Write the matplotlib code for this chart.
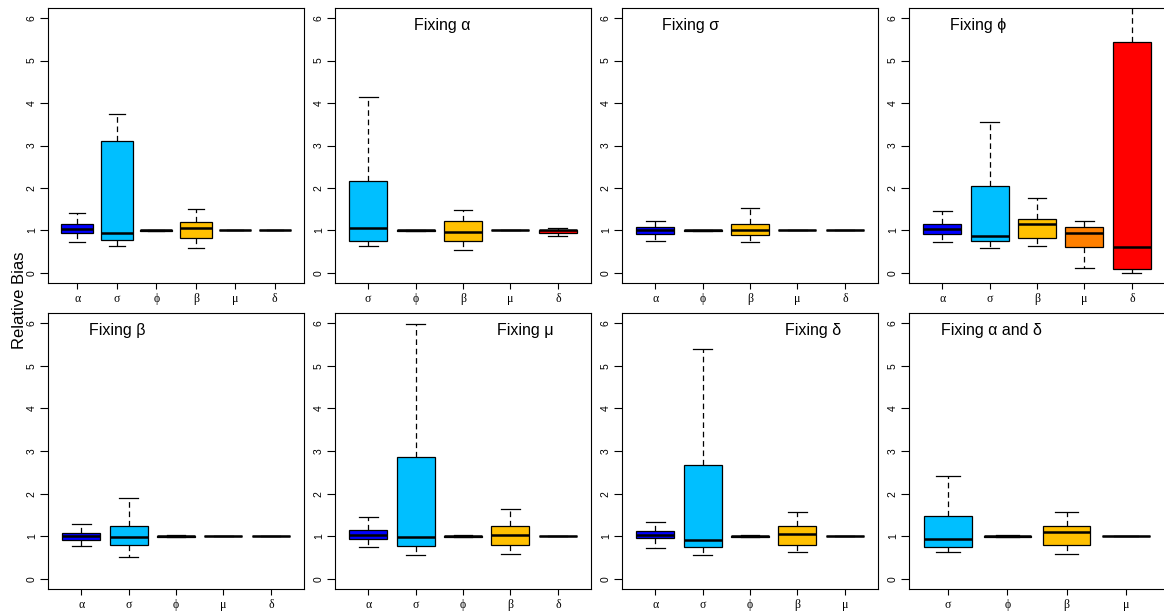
import matplotlib
matplotlib.use("Agg")
import matplotlib.pyplot as plt

# box stats per parameter: (whisker low, q1, median, q3, whisker high)
p1_labels = ["α", "σ", "ϕ", "β", "μ", "δ"]
p1_stats = [(0.73, 0.945, 1.03, 1.156, 1.41), (0.63, 0.766, 0.945, 3.11, 3.75),
            (0.98, 0.99, 1.0, 1.01, 1.02), (0.59, 0.81, 1.06, 1.20, 1.50),
            (1.0, 1.0, 1.0, 1.0, 1.0), (1.0, 1.0, 1.0, 1.0, 1.0)]

p2_labels = ["σ", "ϕ", "β", "μ", "δ"]
p2_stats = [(0.625, 0.76, 1.05, 2.16, 4.15), (0.98, 0.99, 1.0, 1.01, 1.02),
            (0.53, 0.74, 0.95, 1.22, 1.49), (1.0, 1.0, 1.0, 1.0, 1.0),
            (0.875, 0.945, 1.0, 1.02, 1.055)]

p3_labels = ["α", "ϕ", "β", "μ", "δ"]
p3_stats = [(0.76, 0.92, 1.02, 1.08, 1.23), (0.98, 0.99, 1.0, 1.01, 1.02),
            (0.73, 0.88, 1.02, 1.16, 1.52), (1.0, 1.0, 1.0, 1.0, 1.0),
            (1.0, 1.0, 1.0, 1.0, 1.0)]

p4_labels = ["α", "σ", "β", "μ", "δ"]
p4_stats = [(0.73, 0.92, 1.04, 1.16, 1.45), (0.58, 0.74, 0.86, 2.05, 3.55),
            (0.63, 0.83, 1.16, 1.27, 1.76), (0.125, 0.61, 0.94, 1.08, 1.21),
            (0.0, 0.08, 0.61, 5.45, 7.5)]

p5_labels = ["α", "σ", "ϕ", "μ", "δ"]
p5_stats = [(0.77, 0.91, 1.01, 1.07, 1.28), (0.51, 0.79, 0.97, 1.24, 1.89),
            (0.98, 0.99, 1.0, 1.01, 1.02), (1.0, 1.0, 1.0, 1.0, 1.0),
            (1.0, 1.0, 1.0, 1.0, 1.0)]

p6_labels = ["α", "σ", "ϕ", "β", "δ"]
p6_stats = [(0.75, 0.93, 1.03, 1.15, 1.46), (0.57, 0.76, 0.98, 2.86, 5.98),
            (0.98, 0.99, 1.0, 1.01, 1.02), (0.59, 0.79, 1.02, 1.25, 1.65),
            (1.0, 1.0, 1.0, 1.0, 1.0)]

p7_labels = ["α", "σ", "ϕ", "β", "μ"]
p7_stats = [(0.72, 0.95, 1.03, 1.13, 1.33), (0.55, 0.75, 0.91, 2.67, 5.39),
            (0.98, 0.99, 1.0, 1.01, 1.02), (0.64, 0.79, 1.05, 1.24, 1.56),
            (1.0, 1.0, 1.0, 1.0, 1.0)]

p8_labels = ["σ", "ϕ", "β", "μ"]
p8_stats = [(0.62, 0.75, 0.93, 1.48, 2.41), (0.98, 0.99, 1.0, 1.01, 1.02),
            (0.58, 0.79, 1.09, 1.24, 1.57), (1.0, 1.0, 1.0, 1.0, 1.0)]

titles = ["", "Fixing α", "Fixing σ", "Fixing ϕ",
          "Fixing β", "Fixing μ", "Fixing δ", "Fixing α and δ"]

colors = {"α": "#0000FF", "σ": "#00BFFF", "ϕ": "#00CD00", "β": "#FFC000",
          "μ": "#FF8000", "δ": "#FF0000"}

panels = [(p1_labels, p1_stats), (p2_labels, p2_stats), (p3_labels, p3_stats),
          (p4_labels, p4_stats), (p5_labels, p5_stats), (p6_labels, p6_stats),
          (p7_labels, p7_stats), (p8_labels, p8_stats)]

# title x offset (axes fraction)
title_x = [0, 0.31, 0.156, 0.16, 0.16, 0.633, 0.637, 0.125]

W, H = 1164, 611
fig = plt.figure(figsize=(W / 100, H / 100), dpi=100)

lefts = [48, 335, 622, 909]
rows = [(8, 283), (313, 589)]
sans = ["Liberation Sans", "DejaVu Sans"]
serif = ["Liberation Serif", "DejaVu Serif"]

for i, (labels, stats) in enumerate(panels):
    r, c = divmod(i, 4)
    top, bot = rows[r]
    ax = fig.add_axes([lefts[c] / W, 1 - bot / H, 256 / W, (bot - top) / H])
    n = len(labels)
    bstats = [dict(whislo=s[0], q1=s[1], med=s[2], q3=s[3], whishi=s[4], label=l)
              for l, s in zip(labels, stats)]
    res = ax.bxp(bstats, positions=range(1, n + 1), widths=0.8, capwidths=0.4,
                 patch_artist=True, showfliers=False,
                 boxprops=dict(edgecolor="black", linewidth=0.9),
                 whiskerprops=dict(color="black", linewidth=0.9, linestyle=(0, (4.5, 3))),
                 capprops=dict(color="black", linewidth=0.9),
                 medianprops=dict(color="black", linewidth=1.8))
    for box, l in zip(res["boxes"], labels):
        box.set_facecolor(colors[l])
    ax.set_xlim(0.5 - 0.04 * n, n + 0.5 + 0.04 * n)
    ax.set_ylim(-0.24, 6.24)
    ax.set_yticks(range(0, 7))
    ax.set_yticklabels([str(v) for v in range(0, 7)], rotation=90, va="center",
                       fontsize=7.5, family=sans)
    ax.set_xticks(range(1, n + 1))
    ax.set_xticklabels(labels, fontsize=8.5, family=serif)
    ax.tick_params(axis="y", length=6, width=0.8, pad=2)
    ax.tick_params(axis="x", length=4.5, width=0.8, pad=3)
    for sp in ax.spines.values():
        sp.set_linewidth(0.8)
    if titles[i]:
        ax.text(title_x[i], 0.938, titles[i], transform=ax.transAxes,
                ha="left", va="center", fontsize=11.5, family=sans)

fig.text(20 / W, 1 - 300 / H, "Relative Bias", rotation=90, ha="center",
         va="center", fontsize=12, family=sans)

fig.savefig("out.png", dpi=100)
